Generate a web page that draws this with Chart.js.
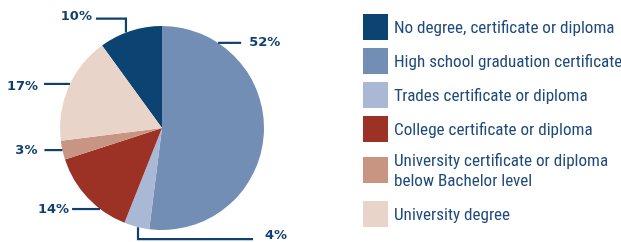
<!DOCTYPE html>
<html>
<head>
<meta charset="utf-8">
<script src="https://cdn.jsdelivr.net/npm/chart.js@4/dist/chart.umd.min.js"></script>
<style>
  html, body { margin: 0; padding: 0; background: #fff; }
  #wrap { position: relative; width: 621px; height: 242px; overflow: hidden; }
  #c { position: absolute; left: 0; top: 0; }
  #legend { position: absolute; left: 363px; top: 14px; margin: 0; padding: 0; list-style: none;
    width: 258px; white-space: nowrap;
    font-family: "Roboto Condensed", sans-serif; font-size: 17.1px; color: #1f4a7c; }
  #legend li { display: flex; align-items: center; margin-bottom: 8px; min-height: 26px; }
  #legend li.two { margin-top: 0px; margin-bottom: 11px; }
  #legend .sw { width: 25px; height: 26px; flex: none; margin-right: 6px; }
  #legend .tx { line-height: 20px; }
</style>
</head>
<body>
<div id="wrap">
  <canvas id="c" width="621" height="242"></canvas>
  <ul id="legend"></ul>
</div>
<script>
// ---- data ----
const categories = [
  "No degree, certificate or diploma",
  "High school graduation certificate",
  "Trades certificate or diploma",
  "College certificate or diploma",
  ["University certificate or diploma", "below Bachelor level"],
  "University degree"
];
const shares = [10, 52, 4, 14, 3, 17];
const colors = ["#0b4373", "#738eb5", "#a9b8d5", "#9b3225", "#c99583", "#e9d4ca"];

// ---- leader-line layout (annotation styling) ----
// angle: degrees clockwise from top on the rim; route: 'h' or 'vh'
const leaders = [
  { angle: 339.3, route: "vh", dy: -14, dx: -30, align: "right", gap: 4, ty: -2 },
  { angle: 33.4,  route: "h",  dy: 0,   dx: 23,  align: "left",  gap: 8, ty: 0 },
  { angle: 193.6, route: "vh", dy: 12,  dx: 115, align: "left",  gap: 12, ty: -4 },
  { angle: 217.4, route: "h",  dy: 0,   dx: -28, align: "right", gap: 3, ty: 1 },
  { angle: 257.5, route: "h",  dy: 0,   dx: -18, align: "right", gap: 7, ty: 1 },
  { angle: 295.6, route: "h",  dy: 0,   dx: -26, align: "right", gap: 6, ty: 3 }
];

const leaderPlugin = {
  id: "leaders",
  afterDatasetsDraw(chart) {
    const ctx = chart.ctx;
    const meta = chart.getDatasetMeta(0);
    const arc = meta.data[0];
    const cx = arc.x, cy = arc.y, r = arc.outerRadius;
    ctx.save();
    ctx.strokeStyle = "#0f4070";
    ctx.fillStyle = "#0f4070";
    ctx.lineWidth = 2.2;
    ctx.font = "bold 13px 'DejaVu Sans', sans-serif";
    ctx.textBaseline = "middle";
    leaders.forEach((L, i) => {
      const a = L.angle * Math.PI / 180;
      const x0 = cx + r * Math.sin(a);
      const y0 = cy - r * Math.cos(a);
      ctx.beginPath();
      ctx.moveTo(x0, y0);
      let x1 = x0, y1 = y0;
      if (L.route === "vh") { y1 = y0 + L.dy; ctx.lineTo(x1, y1); }
      const x2 = x1 + L.dx;
      ctx.lineTo(x2, y1);
      ctx.stroke();
      ctx.textAlign = L.align;
      const tx = L.align === "left" ? x2 + L.gap : x2 - L.gap;
      ctx.fillText(shares[i] + "%", tx, y1 + L.ty);
    });
    ctx.restore();
  }
};

new Chart(document.getElementById("c"), {
  type: "pie",
  data: {
    labels: categories,
    datasets: [{ data: shares, backgroundColor: colors, borderWidth: 0 }]
  },
  options: {
    responsive: false,
    animation: false,
    rotation: -36,
    layout: { padding: { left: 60, right: 357, top: 26, bottom: 12 } },
    plugins: { legend: { display: false }, tooltip: { enabled: false } }
  },
  plugins: [leaderPlugin]
});

// HTML legend from the same arrays
const ul = document.getElementById("legend");
categories.forEach((c, i) => {
  const li = document.createElement("li");
  if (Array.isArray(c)) li.className = "two";
  const sw = document.createElement("span");
  sw.className = "sw"; sw.style.background = colors[i];
  const tx = document.createElement("span");
  tx.className = "tx";
  tx.innerHTML = (Array.isArray(c) ? c : [c]).join("<br>");
  li.appendChild(sw); li.appendChild(tx);
  ul.appendChild(li);
});
</script>
</body>
</html>
